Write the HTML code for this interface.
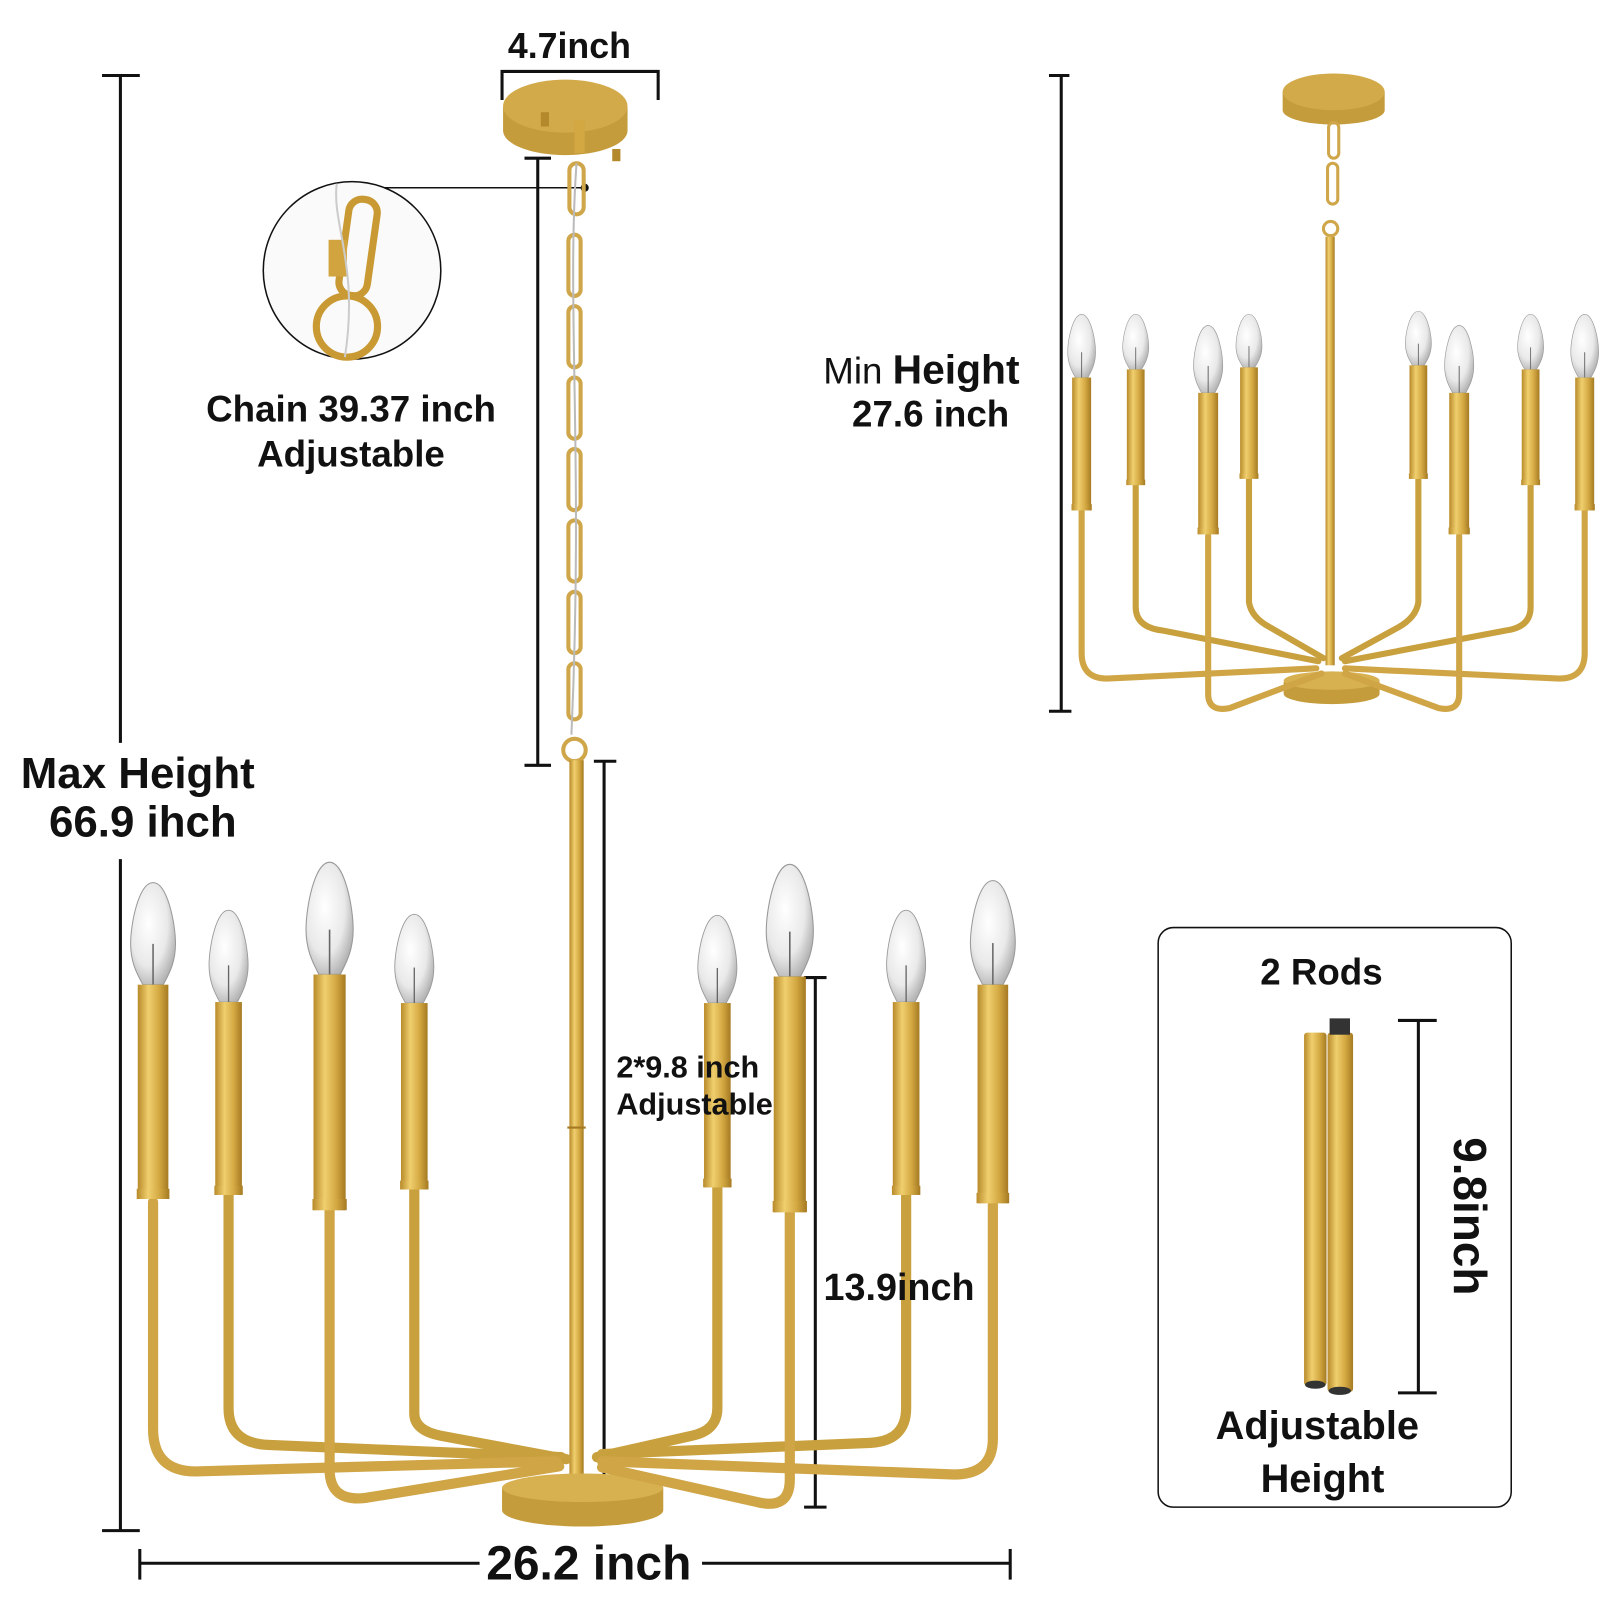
<!DOCTYPE html>
<html><head><meta charset="utf-8"><style>
html,body{margin:0;padding:0;background:#fff}
svg{display:block}
text{font-family:"Liberation Sans",Arial,sans-serif;fill:#111}
</style></head><body>
<svg width="1600" height="1600" viewBox="0 0 1568 1568" xmlns="http://www.w3.org/2000/svg">
<defs>
<linearGradient id="g" x1="0" x2="1" y1="0" y2="0">
<stop offset="0" stop-color="#b88a2a"/><stop offset="0.35" stop-color="#f0cf6e"/><stop offset="0.7" stop-color="#d3a842"/><stop offset="1" stop-color="#a57a22"/></linearGradient>
<radialGradient id="bulb" cx="0.4" cy="0.4" r="0.7">
<stop offset="0" stop-color="#ffffff"/><stop offset="0.6" stop-color="#e9e9e9"/><stop offset="1" stop-color="#a8a8a8"/></radialGradient>
<g id="cand">
<path d="M0,-100 C-14,-100 -22,-60 -22,-40 C-22,-20 -14,-8 -10,0 L10,0 C14,-8 22,-20 22,-40 C22,-60 14,-100 0,-100Z" fill="url(#bulb)" stroke="#999" stroke-width="1"/>
<line x1="0" y1="-40" x2="0" y2="0" stroke="#666" stroke-width="1.5"/>
<rect x="-15" y="0" width="30" height="210" fill="url(#g)"/>
<rect x="-16" y="200" width="32" height="10" fill="url(#g)"/>
</g>
</defs>

<g stroke="#111" stroke-width="3" fill="none">
<line x1="118" y1="74" x2="118" y2="728"/><line x1="118" y1="842" x2="118" y2="1500"/>
<line x1="100" y1="74" x2="137" y2="74"/><line x1="100" y1="1500" x2="137" y2="1500"/>
<line x1="137" y1="1532" x2="470" y2="1532"/><line x1="688" y1="1532" x2="990" y2="1532"/>
<line x1="137" y1="1518" x2="137" y2="1548"/><line x1="990" y1="1518" x2="990" y2="1548"/>
<polyline points="492,98 492,70 645,70 645,98"/>
<line x1="527" y1="155" x2="527" y2="750"/><line x1="514" y1="155" x2="540" y2="155"/><line x1="514" y1="750" x2="540" y2="750"/>
<line x1="592" y1="746" x2="592" y2="1447"/><line x1="582" y1="746" x2="604" y2="746"/><line x1="582" y1="1447" x2="604" y2="1447"/>
<line x1="799" y1="958" x2="799" y2="1477"/><line x1="788" y1="958" x2="810" y2="958"/><line x1="788" y1="1477" x2="810" y2="1477"/>
<line x1="1040" y1="74" x2="1040" y2="697"/><line x1="1028" y1="74" x2="1048" y2="74"/><line x1="1028" y1="697" x2="1050" y2="697"/>
<line x1="1390" y1="1000" x2="1390" y2="1365"/><line x1="1370" y1="1000" x2="1408" y2="1000"/><line x1="1370" y1="1365" x2="1408" y2="1365"/>
</g>
<line x1="373" y1="184" x2="573" y2="184" stroke="#111" stroke-width="1.5"/>
<circle cx="573" cy="184" r="4" fill="#111"/>
<circle cx="345" cy="265" r="87" fill="#fafafa" stroke="#111" stroke-width="1.5"/>
<g fill="none" stroke="#c99a34" stroke-width="7">
<rect x="337" y="195" width="28" height="95" rx="13" transform="rotate(8 351 242)"/>
<circle cx="340" cy="320" r="30"/>
</g>
<rect x="322" y="235" width="18" height="36" fill="#d2a43f"/>
<path d="M330 180 C325 220 352 260 338 350" stroke="#ccc" stroke-width="2" fill="none"/>

<!-- canopy main -->
<path d="M493,105 L493,128 A61,24 0 0 0 615,128 L615,105Z" fill="#c59c3c"/>
<ellipse cx="554" cy="104" rx="61" ry="26" fill="#d2aa4a"/>
<rect x="530" y="110" width="8" height="14" fill="#b4882c"/><rect x="600" y="146" width="8" height="12" fill="#b4882c"/>
<rect x="563" y="118" width="10" height="32" fill="#d3a842"/>
<g fill="none" stroke="#cfa64a" stroke-width="4">
<rect x="558" y="160" width="14" height="50" rx="7"/>
<rect x="557" y="230" width="12" height="60" rx="6"/>
<rect x="557" y="300" width="12" height="60" rx="6"/>
<rect x="557" y="370" width="12" height="60" rx="6"/>
<rect x="557" y="440" width="12" height="60" rx="6"/>
<rect x="557" y="510" width="12" height="60" rx="6"/>
<rect x="557" y="580" width="12" height="60" rx="6"/>
<rect x="557" y="650" width="12" height="55" rx="6"/>
<circle cx="563" cy="735" r="11"/>
</g>
<path d="M565 160 C555 300 572 450 560 720" stroke="#bbb" stroke-width="2" fill="none"/>
<rect x="558" y="745" width="14" height="700" fill="url(#g)"/>
<line x1="556" y1="1105" x2="574" y2="1105" stroke="#a57a22" stroke-width="2"/>

<g fill="none" stroke="#c9a03e" stroke-width="10" stroke-linecap="round">
<path d="M224 1170 V1380 Q224 1414 262 1416 L550 1428"/>
<path d="M406 1165 V1385 Q406 1402 432 1407 L555 1430"/>
<path d="M703 1163 V1380 Q703 1402 678 1407 L585 1428"/>
<path d="M888 1170 V1380 Q888 1412 853 1414 L590 1425"/>
</g>
<path d="M492,1458 L492,1480 A79,16 0 0 0 650,1480 L650,1458Z" fill="#c59c3c"/>
<ellipse cx="571" cy="1458" rx="79" ry="14" fill="#d7b04f"/>
<g fill="none" stroke="#cfa546" stroke-width="10" stroke-linecap="round">
<path d="M150 1178 V1400 Q150 1442 192 1442 L545 1432"/>
<path d="M973 1180 V1410 Q973 1445 935 1445 L590 1432"/>
<path d="M323 1185 V1440 Q323 1472 358 1468 L548 1437"/>
<path d="M774 1188 V1450 Q774 1480 742 1472 L590 1438"/>
</g>

<use href="#cand" transform="translate(150,965)"/>
<use href="#cand" transform="translate(224,982) scale(0.87,0.9)"/>
<use href="#cand" transform="translate(323,955) scale(1.05,1.1)"/>
<use href="#cand" transform="translate(406,983) scale(0.87,0.87)"/>
<use href="#cand" transform="translate(703,983) scale(0.87,0.86)"/>
<use href="#cand" transform="translate(774,957) scale(1.05,1.1)"/>
<use href="#cand" transform="translate(888,982) scale(0.87,0.9)"/>
<use href="#cand" transform="translate(973,965) scale(1,1.02)"/>

<!-- right chandelier -->
<path d="M1257,90 L1257,108 A50,14 0 0 0 1357,108 L1357,90Z" fill="#c59c3c"/>
<ellipse cx="1307" cy="90" rx="50" ry="18" fill="#d2aa4a"/>
<g fill="none" stroke="#cfa64a" stroke-width="3">
<rect x="1302" y="120" width="10" height="35" rx="5"/><rect x="1301" y="160" width="10" height="40" rx="5"/><circle cx="1304" cy="224" r="7"/>
</g>
<rect x="1299" y="232" width="9" height="420" fill="url(#g)"/>
<g fill="none" stroke="#c9a03e" stroke-width="6" stroke-linecap="round">
<path d="M1113 475 V595 Q1113 615 1140 618 L1292 648"/>
<path d="M1224 470 V590 Q1226 605 1245 615 L1297 645"/>
<path d="M1390 470 V590 Q1388 605 1370 615 L1315 645"/>
<path d="M1500 475 V595 Q1500 615 1475 618 L1318 648"/>
</g>
<path d="M1258,668 L1258,680 A47,10 0 0 0 1352,680 L1352,668Z" fill="#c59c3c"/>
<ellipse cx="1305" cy="667" rx="47" ry="9" fill="#d7b04f"/>
<g fill="none" stroke="#cfa546" stroke-width="6" stroke-linecap="round">
<path d="M1060 500 V640 Q1060 665 1085 665 L1290 655"/>
<path d="M1553 500 V640 Q1553 665 1528 665 L1318 655"/>
<path d="M1184 525 V680 Q1184 698 1205 694 L1295 660"/>
<path d="M1430 525 V680 Q1430 698 1410 694 L1318 660"/>
</g>
<use href="#cand" transform="translate(1060,370) scale(0.62,0.62)"/>
<use href="#cand" transform="translate(1113,362) scale(0.58,0.54)"/>
<use href="#cand" transform="translate(1184,385) scale(0.65,0.66)"/>
<use href="#cand" transform="translate(1224,360) scale(0.58,0.52)"/>
<use href="#cand" transform="translate(1390,358) scale(0.58,0.53)"/>
<use href="#cand" transform="translate(1430,385) scale(0.65,0.66)"/>
<use href="#cand" transform="translate(1500,362) scale(0.58,0.54)"/>
<use href="#cand" transform="translate(1553,370) scale(0.62,0.62)"/>

<rect x="1135" y="909" width="346" height="568" rx="15" fill="none" stroke="#111" stroke-width="1.5"/>
<rect x="1278" y="1012" width="22" height="346" rx="3" fill="url(#g)"/>
<rect x="1301" y="1012" width="25" height="352" rx="3" fill="url(#g)"/>
<rect x="1303" y="998" width="20" height="16" fill="#333"/>
<ellipse cx="1289" cy="1357" rx="10" ry="4" fill="#333"/><ellipse cx="1313" cy="1363" rx="11" ry="4" fill="#333"/>

<text x="558" y="57" font-size="35" font-weight="bold" text-anchor="middle">4.7inch</text>
<text x="344" y="413" font-size="36" font-weight="bold" text-anchor="middle">Chain 39.37 inch</text>
<text x="344" y="457" font-size="36" font-weight="bold" text-anchor="middle">Adjustable</text>
<text x="135" y="772" font-size="43" font-weight="bold" text-anchor="middle">Max Height</text>
<text x="140" y="820" font-size="43" font-weight="bold" text-anchor="middle">66.9 ihch</text>
<text x="903" y="376" font-size="40" text-anchor="middle"><tspan font-size="36">Min </tspan><tspan font-weight="bold">Height</tspan></text>
<text x="912" y="418" font-size="36" font-weight="bold" text-anchor="middle">27.6 inch</text>
<text x="604" y="1056" font-size="30" font-weight="bold">2*9.8 inch</text>
<text x="604" y="1092" font-size="30" font-weight="bold">Adjustable</text>
<text x="807" y="1274" font-size="37" font-weight="bold">13.9inch</text>
<text x="577" y="1548" font-size="47" font-weight="bold" text-anchor="middle">26.2 inch</text>
<text x="1295" y="965" font-size="36" font-weight="bold" text-anchor="middle">2 Rods</text>
<text x="1291" y="1410" font-size="39" font-weight="bold" text-anchor="middle">Adjustable</text>
<text x="1296" y="1462" font-size="39" font-weight="bold" text-anchor="middle">Height</text>
<text x="0" y="0" font-size="45" font-weight="bold" text-anchor="middle" transform="translate(1425,1192) rotate(90)">9.8inch</text>
</svg>
</body></html>
